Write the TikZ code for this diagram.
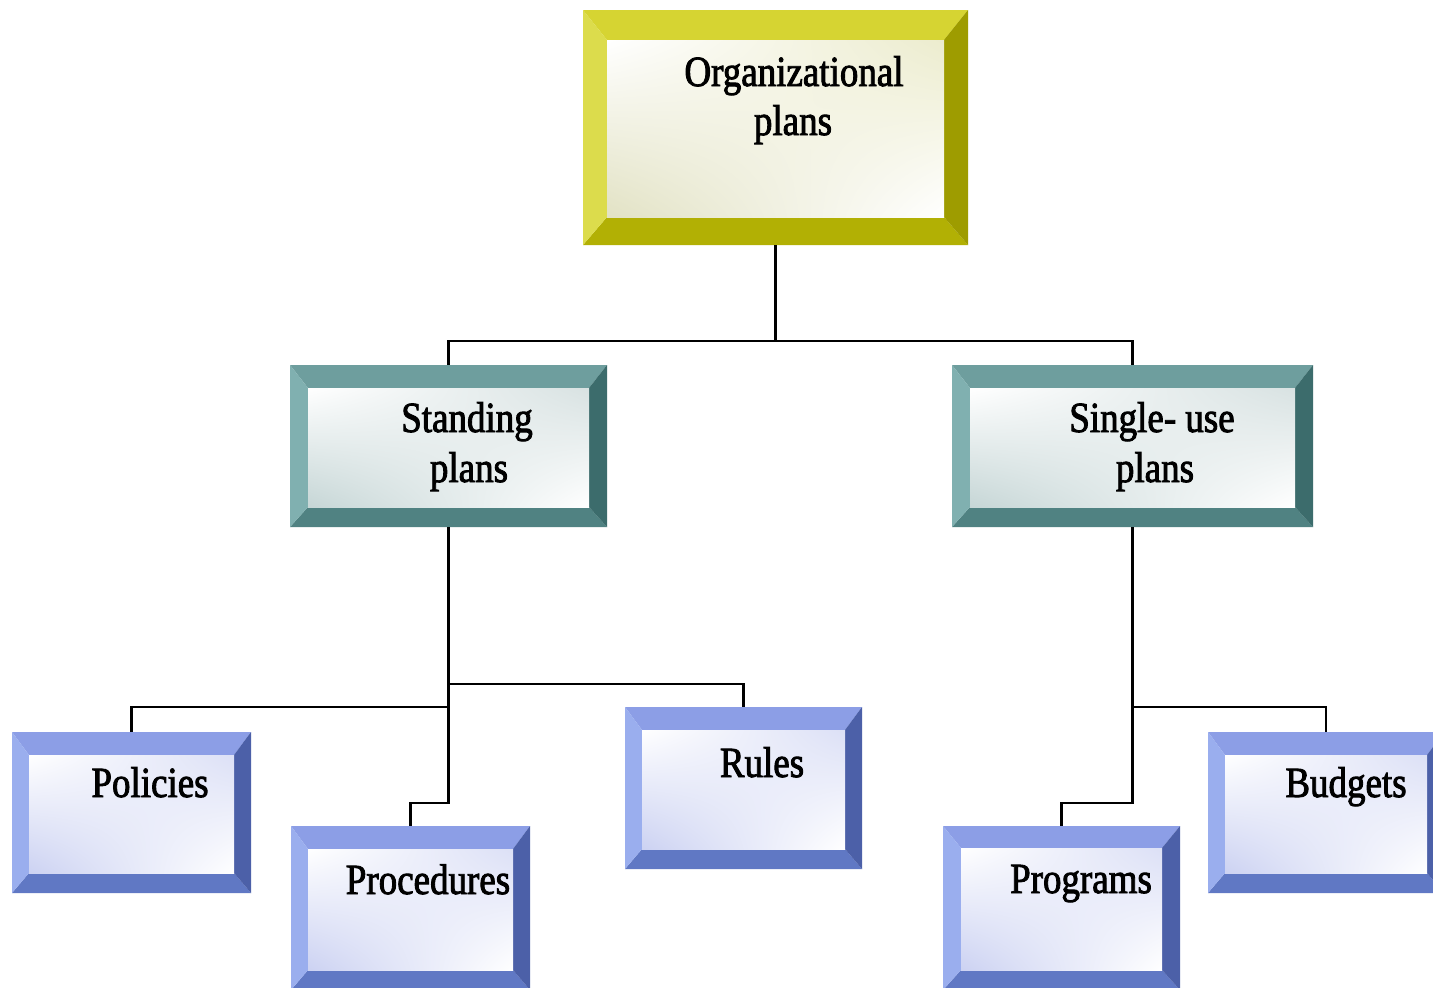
\documentclass[tikz,border=0pt]{standalone}
\usepackage{fontspec}
\newfontfamily\lblfont{Liberation Serif}[FakeStretch=0.86,FakeBold=2]
\usetikzlibrary{fit,shadings}
\definecolor{yelT}{HTML}{D6D432}
\definecolor{yelL}{HTML}{DCDC4C}
\definecolor{yelR}{HTML}{9E9C00}
\definecolor{yelB}{HTML}{B2B004}
\definecolor{yelU}{HTML}{ECECCE}
\definecolor{yelD}{HTML}{E2E2C4}
\definecolor{tealT}{HTML}{6E9E9E}
\definecolor{tealL}{HTML}{80B0B0}
\definecolor{tealR}{HTML}{3C6C6C}
\definecolor{tealB}{HTML}{508282}
\definecolor{tealU}{HTML}{D8E2E2}
\definecolor{tealD}{HTML}{C6D6D6}
\definecolor{bluT}{HTML}{8C9EE6}
\definecolor{bluL}{HTML}{9AAEEE}
\definecolor{bluR}{HTML}{4C60A8}
\definecolor{bluB}{HTML}{6078C4}
\definecolor{bluU}{HTML}{DCE0F6}
\definecolor{bluD}{HTML}{CCD2F2}
\newcommand\bevbox[9]{%
 \fill[#6T] (#2,#3) -- (#4,#3) -- ({#4-#7},{#3+#8}) -- ({#2+#7},{#3+#8}) -- cycle;
 \fill[#6B] (#2,#5) -- (#4,#5) -- ({#4-#7},{#5-#9}) -- ({#2+#7},{#5-#9}) -- cycle;
 \fill[#6L] (#2,#3) -- ({#2+#7},{#3+#8}) -- ({#2+#7},{#5-#9}) -- (#2,#5) -- cycle;
 \fill[#6R] (#4,#3) -- ({#4-#7},{#3+#8}) -- ({#4-#7},{#5-#9}) -- (#4,#5) -- cycle;
 \shade[upper left=white, upper right=#6U, lower left=#6D, lower right=white] ({#2+#7},{#3+#8}) rectangle ({#4-#7},{#5-#9});
 \node[fit={(#2,#3) (#4,#5)}, inner sep=0pt] (#1) {};
}
\tikzset{
 lbl/.style={font=\lblfont\fontsize{43}{50}\selectfont, anchor=base, inner sep=0pt},
 conn/.style={draw=black, line width=2.4pt}
}
\begin{document}
\begin{tikzpicture}[x=1pt,y=-1pt]
\useasboundingbox[fill=white] (0,0) rectangle (1433,988);
% boxes
\bevbox{org}{583}{10}{968}{245}{yel}{24}{30}{28}
\bevbox{stand}{290}{365}{607}{527}{teal}{18}{23}{20}
\bevbox{single}{952}{365}{1313}{527}{teal}{18}{23}{20}
\bevbox{pol}{12}{732}{251}{893}{blu}{17}{23}{20}
\bevbox{proc}{291}{826}{530}{990}{blu}{17}{23}{20}
\bevbox{rules}{625}{707}{862}{869}{blu}{17}{23}{20}
\bevbox{prog}{943}{826}{1180}{990}{blu}{18}{22}{20}
\bevbox{budg}{1208}{732}{1444}{893}{blu}{17}{23}{20}
% texts
\node[lbl] (org-a) at (794,86) {Organizational};
\node[lbl] (org-b) at (793,135) {plans};
\node[lbl] (stand-a) at (467,432) {Standing};
\node[lbl] (stand-b) at (469,482) {plans};
\node[lbl] (single-a) at (1152,432) {Single- use};
\node[lbl] (single-b) at (1155,482) {plans};
\node[lbl] (pol-t) at (150,797) {Policies};
\node[lbl] (proc-t) at (428,894) {Procedures};
\node[lbl] (rules-t) at (762,777) {Rules};
\node[lbl] (prog-t) at (1081,893) {Programs};
\node[lbl] (budg-t) at (1346,797) {Budgets};
% connectors
\coordinate (j1) at (775,341);
\draw[conn] (org.south) -- (org.south |- j1);
\draw[conn] (stand.north) -- (stand.north |- j1) -- (single.north |- j1) -- (single.north);
\coordinate (jr) at (448,684);
\coordinate (jl) at (448,707);
\coordinate (jp) at (448,803);
\draw[conn] (stand.south) -- (stand.south |- jp) -| (proc.north);
\draw[conn] (stand.south |- jr) -| (rules.north);
\draw[conn] (stand.south |- jl) -| (pol.north);
\coordinate (kb) at (1133,707);
\coordinate (kp) at (1133,803);
\draw[conn] (single.south) -- (single.south |- kp) -| (prog.north);
\draw[conn] (single.south |- kb) -| (budg.north);
\end{tikzpicture}
\end{document}
